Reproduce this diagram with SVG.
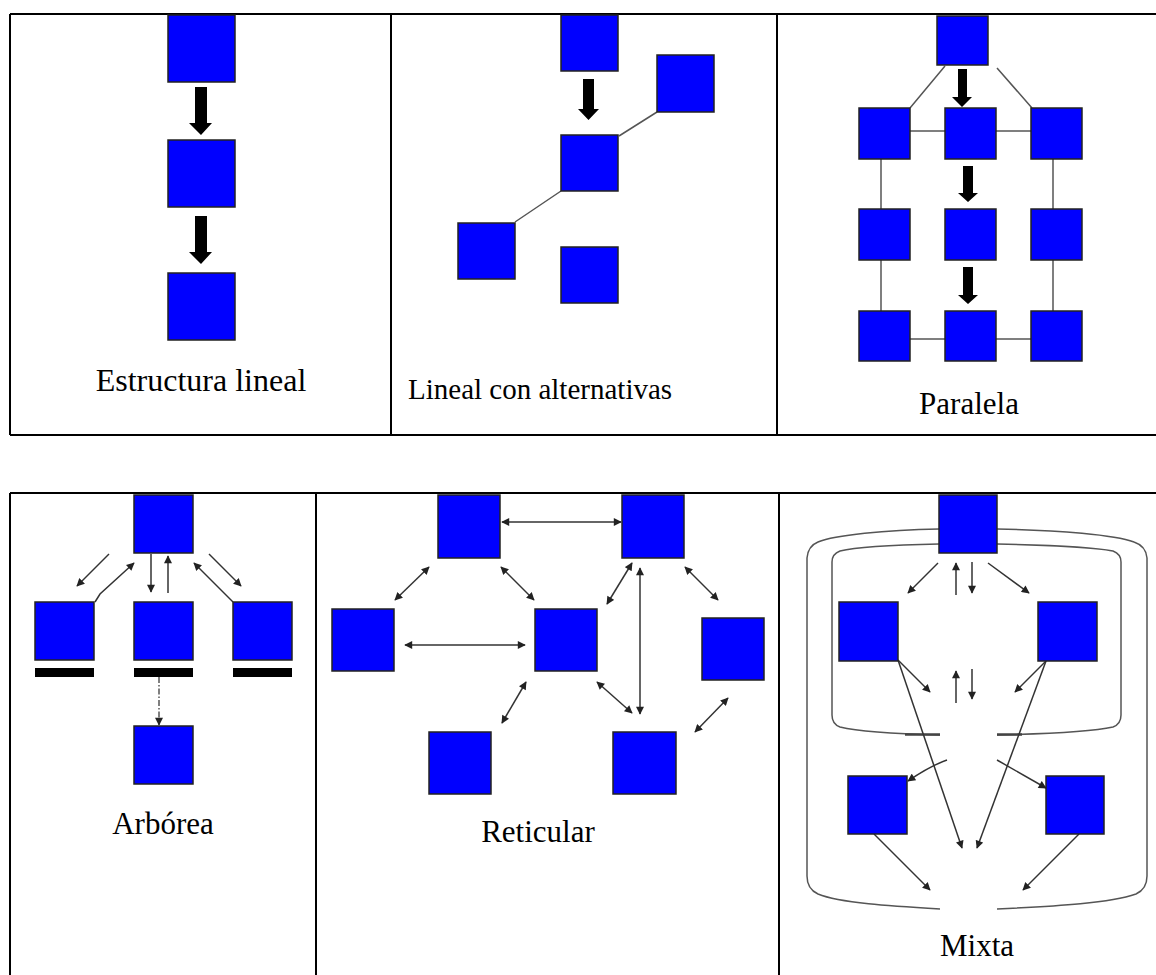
<svg xmlns="http://www.w3.org/2000/svg" width="1156" height="975" viewBox="0 0 1156 975">
<style>
.b{fill:#0000FF;stroke:#222;stroke-width:1.5}
.frame{stroke:#000;stroke-width:2;fill:none}
.ln{stroke:#555;stroke-width:1.5;fill:none}
.ar{stroke:#333;stroke-width:1.5;fill:none;marker-end:url(#ah)}
.dar{stroke:#333;stroke-width:1.5;fill:none;marker-end:url(#ah);marker-start:url(#ah)}
.ct{stroke:#555;stroke-width:1.5;fill:none}
.bar{fill:#000}
.tk{fill:#000}
text{font-family:"Liberation Serif","Times New Roman",serif;font-size:31px;fill:#000}
</style>
<defs>
<marker id="ah" viewBox="0 0 10 10" refX="9" refY="5" markerWidth="9" markerHeight="8" markerUnits="userSpaceOnUse" orient="auto-start-reverse">
<path d="M0,0 L10,5 L0,10 Z" fill="#222"/>
</marker>
</defs>
<rect width="1156" height="975" fill="#fff"/>
<g id="frames">
<path class="frame" d="M10,14 H1156 M10,435 H1156 M10,14 V435 M391,14 V435 M777,14 V435"/>
<path class="frame" d="M10,493 H1156 M10,493 V975 M316,493 V975 M779,493 V975"/>
</g>
<g id="connectors">
<path class="tk" d="M195,87 H207 V123 H212 L201,135 L189,123 H195 Z"/>
<path class="tk" d="M195,216 H207 V252 H212 L201,264 L189,252 H195 Z"/>
<path class="tk" d="M583,79 H594 V109 H599 L588.5,120 L578,109 H583 Z"/>
<path class="ln" d="M619,136 L657,112 M515,222 L561,191"/>
<path class="tk" d="M958,69 H967 V97 H972 L962,107 L952,97 H958 Z"/>
<path class="tk" d="M963,166 H973 V193 H978 L968,202 L958,193 H963 Z"/>
<path class="tk" d="M963,267 H973 V295 H978 L968,304 L958,295 H963 Z"/>
<path class="ln" d="M945,66 L910,108 M997,68 L1032,108 M910,131 H945 M996,131 H1031 M881,159 V209 M881,260 V311 M1053,159 V209 M1053,260 V311 M910,339 H945 M996,339 H1031"/>
<path class="ar" d="M109,554 L77,586"/>
<path class="ar" d="M95,602 L100,594 L134,563"/>
<path class="ar" d="M151,554 V592"/>
<path class="ar" d="M168,593 V556"/>
<path class="ar" d="M233,602 L225,594 L194,563"/>
<path class="ar" d="M209,554 L241,586"/>
<path class="ar" d="M159,677 V725" style="stroke-dasharray:6,2,1.5,2;stroke:#555"/>
<path class="dar" d="M502,522 H621"/>
<path class="dar" d="M405,645 H525"/>
<path class="dar" d="M429,567 L395,600"/>
<path class="dar" d="M501,567 L534,600"/>
<path class="dar" d="M632,563 L607,604"/>
<path class="dar" d="M640,568 V714"/>
<path class="dar" d="M685,567 L718,600"/>
<path class="dar" d="M526,682 L502,723"/>
<path class="dar" d="M597,682 L632,713"/>
<path class="dar" d="M728,698 L695,732"/>
<path class="ct" d="M939,529 C885,530 835,535 818,542 Q808,546 807,558 L807,876 Q807,889 818,894 C840,903 890,906 940,909"/>
<path class="ct" d="M997,529 C1060,530 1115,535 1134,542 Q1146,546 1147,558 L1147,876 Q1147,889 1136,894 C1110,903 1060,906 997,909"/>
<path class="ct" d="M939,544 C890,545 852,548 840,551 Q832,554 832,562 L832,715 Q832,724 840,727 C860,732 900,734 940,735"/>
<path class="ct" d="M997,544 C1050,545 1098,548 1113,551 Q1121,554 1121,562 L1121,715 Q1121,724 1113,727 C1090,732 1040,734 997,735"/>
<path d="M905,734.5 H940 M997,734.5 H1022" stroke="#444" stroke-width="2.5" fill="none"/>
<path class="ar" d="M938,563 L908,593"/>
<path class="ar" d="M956,595 V563"/>
<path class="ar" d="M972,562 V593"/>
<path class="ar" d="M988,563 L1029,593"/>
<path class="ar" d="M898,660 L930,692"/>
<path class="ar" d="M898,660 L962,848"/>
<path class="ar" d="M956,703 V671"/>
<path class="ar" d="M972,669 V699"/>
<path class="ar" d="M1046,661 L1015,692"/>
<path class="ar" d="M1046,661 L977,848"/>
<path class="ar" d="M947,760 Q930,766 908,781"/>
<path class="ar" d="M997,760 L1046,788"/>
<path class="ar" d="M874,834 L930,890"/>
<path class="ar" d="M1079,834 L1023,890"/>
</g>
<g id="lineal">
<rect class="b" x="168" y="15" width="67" height="67"/>
<rect class="b" x="168" y="140" width="67" height="67"/>
<rect class="b" x="168" y="273" width="67" height="67"/>
<text x="201" y="391" text-anchor="middle" style="font-size:32px">Estructura lineal</text>
</g>
<g id="alternativas">
<rect class="b" x="561" y="15" width="57" height="56"/>
<rect class="b" x="657" y="55" width="57" height="57"/>
<rect class="b" x="561" y="135" width="57" height="56"/>
<rect class="b" x="458" y="223" width="57" height="56"/>
<rect class="b" x="561" y="247" width="57" height="56"/>
<text x="408" y="399" style="font-size:29px">Lineal con alternativas</text>
</g>
<g id="paralela">
<rect class="b" x="937" y="16" width="51" height="49"/>
<rect class="b" x="859" y="108" width="51" height="51"/>
<rect class="b" x="945" y="108" width="51" height="51"/>
<rect class="b" x="1031" y="108" width="51" height="51"/>
<rect class="b" x="859" y="209" width="51" height="51"/>
<rect class="b" x="945" y="209" width="51" height="51"/>
<rect class="b" x="1031" y="209" width="51" height="51"/>
<rect class="b" x="859" y="311" width="51" height="50"/>
<rect class="b" x="945" y="311" width="51" height="50"/>
<rect class="b" x="1031" y="311" width="51" height="50"/>
<text x="969" y="414" text-anchor="middle">Paralela</text>
</g>
<g id="arborea">
<rect class="b" x="134" y="495" width="59" height="58"/>
<rect class="b" x="35" y="602" width="59" height="58"/>
<rect class="b" x="134" y="602" width="59" height="58"/>
<rect class="b" x="233" y="602" width="59" height="58"/>
<rect class="bar" x="35" y="668" width="59" height="9"/>
<rect class="bar" x="134" y="668" width="59" height="9"/>
<rect class="bar" x="233" y="668" width="59" height="9"/>
<rect class="b" x="134" y="726" width="59" height="58"/>
<text x="163" y="834" text-anchor="middle">Arbórea</text>
</g>
<g id="reticular">
<rect class="b" x="438" y="495" width="62" height="63"/>
<rect class="b" x="622" y="495" width="62" height="63"/>
<rect class="b" x="332" y="609" width="62" height="62"/>
<rect class="b" x="535" y="609" width="62" height="62"/>
<rect class="b" x="702" y="618" width="62" height="62"/>
<rect class="b" x="429" y="732" width="62" height="62"/>
<rect class="b" x="613" y="732" width="63" height="62"/>
<text x="538" y="842" text-anchor="middle">Reticular</text>
</g>
<g id="mixta">
<rect class="b" x="939" y="495" width="58" height="58"/>
<rect class="b" x="839" y="602" width="59" height="59"/>
<rect class="b" x="1038" y="602" width="59" height="59"/>
<rect class="b" x="848" y="776" width="59" height="58"/>
<rect class="b" x="1046" y="776" width="58" height="58"/>
<text x="977" y="956" text-anchor="middle">Mixta</text>
</g>
</svg>
